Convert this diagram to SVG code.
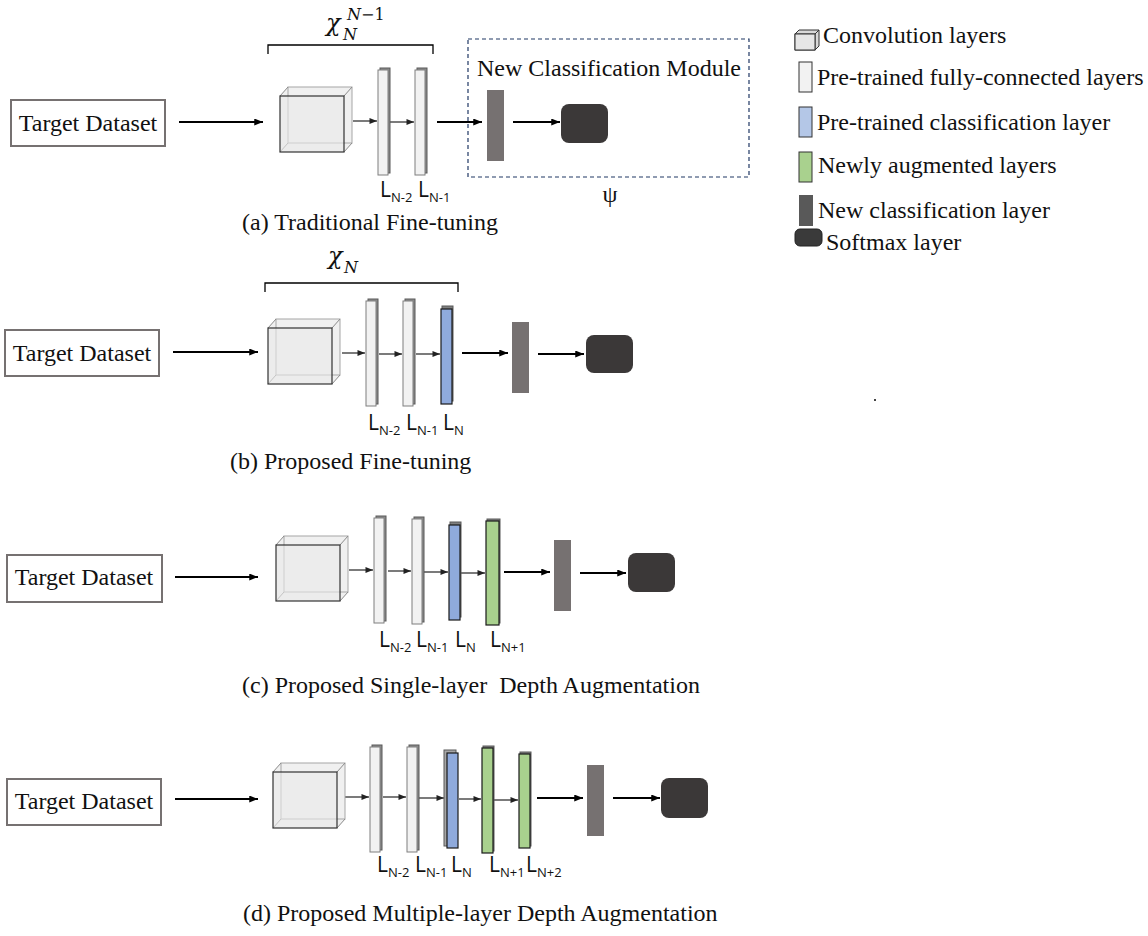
<svg xmlns="http://www.w3.org/2000/svg" xmlns:xlink="http://www.w3.org/1999/xlink" width="1148" height="936" viewBox="0 0 1148 936">
<style>
.t{font-family:"Liberation Serif","Times New Roman",serif;font-size:24px;fill:#111}
.lab{font-family:"Open Sans","Liberation Sans",sans-serif;font-size:21px;fill:#111}
.sub{font-size:13px}
.math{font-family:"DejaVu Serif","Liberation Serif",serif;font-style:italic;fill:#111}
.box{fill:#fff;stroke:#767171;stroke-width:2}
.arr{stroke:#000;stroke-width:2;fill:none}
.sarr{stroke:#333;stroke-width:1.3;fill:none}
.fcb{fill:#8c8c8c;stroke:#595959;stroke-width:1}
.fcf{fill:#f2f2f2;stroke:#7f7f7f;stroke-width:1}
.blue{fill:#8faadc;stroke:#1a1a1a;stroke-width:1.2}
.green{fill:#a9d18e;stroke:#1a1a1a;stroke-width:1.2}
.back{fill:#7f7f7f;stroke:#595959;stroke-width:1}
.ncl{fill:#767171}
.soft{fill:#3b3838}
.brk{stroke:#000;stroke-width:1.3;fill:none}
</style>
<defs>
<marker id="ah" markerUnits="userSpaceOnUse" viewBox="0 0 10 8" refX="10" refY="4" markerWidth="9" markerHeight="7" orient="auto"><path d="M0,0 L10,4 L0,8 z" fill="#000"/></marker>
<marker id="ahs" markerUnits="userSpaceOnUse" viewBox="0 0 10 8" refX="10" refY="4" markerWidth="8" markerHeight="6" orient="auto"><path d="M0,0 L10,4 L0,8 z" fill="#222"/></marker>
<g id="cube">
<polygon points="0,0 8,-9 72,-9 72,47 64,56 0,56" fill="#f0f0f0"/>
<rect x="8" y="-9" width="64" height="56" fill="none" stroke="#a6a6a6" stroke-width="1"/>
<path d="M0,0 L8,-9 M64,0 L72,-9 M64,56 L72,47 M0,56 L8,47" stroke="#8c8c8c" stroke-width="1" fill="none"/>
<rect x="0" y="0" width="64" height="56" fill="#e9e9e9" fill-opacity="0.6" stroke="#333" stroke-width="1.2"/>
</g>
<g id="fc">
<rect class="fcb" x="2" y="-2" width="10" height="105"/>
<rect class="fcf" x="0" y="0" width="10" height="105"/>
</g>
</defs>
<rect width="1148" height="936" fill="#fff"/>

<g id="connectors">
<path class="arr" d="M179,122 H263" marker-end="url(#ah)"/>
<path class="sarr" d="M353,121 H377" marker-end="url(#ahs)"/>
<path class="sarr" d="M390,122 H414" marker-end="url(#ahs)"/>
<path class="arr" d="M437,122 H482" marker-end="url(#ah)"/>
<path class="arr" d="M513,122 H560" marker-end="url(#ah)"/>

<path class="arr" d="M173,352 H258" marker-end="url(#ah)"/>
<path class="sarr" d="M342,353 H365" marker-end="url(#ahs)"/>
<path class="sarr" d="M379,354 H402" marker-end="url(#ahs)"/>
<path class="sarr" d="M416,354 H440" marker-end="url(#ahs)"/>
<path class="arr" d="M462,353 H508" marker-end="url(#ah)"/>
<path class="arr" d="M538,354 H584" marker-end="url(#ah)"/>

<path class="arr" d="M175,577 H258" marker-end="url(#ah)"/>
<path class="sarr" d="M349,570 H373" marker-end="url(#ahs)"/>
<path class="sarr" d="M388,571 H411" marker-end="url(#ahs)"/>
<path class="sarr" d="M424,572 H448" marker-end="url(#ahs)"/>
<path class="sarr" d="M461,573 H485" marker-end="url(#ahs)"/>
<path class="arr" d="M504,572 H550" marker-end="url(#ah)"/>
<path class="arr" d="M580,573 H626" marker-end="url(#ah)"/>

<path class="arr" d="M175,799 H258" marker-end="url(#ah)"/>
<path class="sarr" d="M345,797 H369" marker-end="url(#ahs)"/>
<path class="sarr" d="M383,797 H406" marker-end="url(#ahs)"/>
<path class="sarr" d="M419,798 H444" marker-end="url(#ahs)"/>
<path class="sarr" d="M459,799 H481" marker-end="url(#ahs)"/>
<path class="sarr" d="M494,800 H518" marker-end="url(#ahs)"/>
<path class="arr" d="M537,798 H583" marker-end="url(#ah)"/>
<path class="arr" d="M613,798 H660" marker-end="url(#ah)"/>
</g>

<!-- Panel (a) -->
<g id="a-target"><rect class="box" x="11" y="100" width="154" height="46"/><text class="t" x="88" y="131" text-anchor="middle">Target Dataset</text></g>
<g id="a-conv"><use xlink:href="#cube" x="280" y="96"/></g>
<g id="a-L1"><use xlink:href="#fc" x="378" y="70"/></g>
<g id="a-L2"><use xlink:href="#fc" x="415" y="70"/></g>
<g id="a-module"><rect x="468" y="39" width="281" height="138" fill="none" stroke="#203864" stroke-width="1.2" stroke-dasharray="4,3"/><text class="t" x="477" y="76">New Classification Module</text></g>
<g id="a-newcls"><rect class="ncl" x="487" y="90" width="17" height="71"/></g>
<g id="a-soft"><rect class="soft" x="561" y="104" width="47" height="39" rx="8"/></g>
<g id="a-labels">
<text class="lab" x="380" y="197">L<tspan class="sub" dy="5">N-2</tspan></text>
<text class="lab" x="418" y="197">L<tspan class="sub" dy="5">N-1</tspan></text>
<path class="brk" d="M268,54 V45 H433 V54"/>
<text class="math" x="326" y="31" font-size="24">χ</text>
<text class="math" x="343" y="40" font-size="16">N</text>
<text class="math" x="347" y="20" font-size="16">N<tspan font-style="normal">−1</tspan></text>
<text class="t" x="610" y="202" text-anchor="middle" font-size="30">ψ</text>
<text class="t" x="242" y="230">(a) Traditional Fine-tuning</text>
</g>

<!-- Panel (b) -->
<g id="b-target"><rect class="box" x="5" y="330" width="154" height="46"/><text class="t" x="82" y="361" text-anchor="middle">Target Dataset</text></g>
<g id="b-conv"><use xlink:href="#cube" x="268" y="328"/></g>
<g id="b-L1"><use xlink:href="#fc" x="366" y="301"/></g>
<g id="b-L2"><use xlink:href="#fc" x="403" y="301"/></g>
<g id="b-LN"><rect class="back" x="442" y="306" width="11" height="95"/><rect class="blue" x="441" y="309" width="11" height="95"/></g>
<g id="b-newcls"><rect class="ncl" x="512" y="322" width="17" height="71"/></g>
<g id="b-soft"><rect class="soft" x="586" y="335" width="47" height="38" rx="8"/></g>
<g id="b-labels">
<text class="lab" x="368" y="430">L<tspan class="sub" dy="5">N-2</tspan></text>
<text class="lab" x="406" y="430">L<tspan class="sub" dy="5">N-1</tspan></text>
<text class="lab" x="443" y="430">L<tspan class="sub" dy="5">N</tspan></text>
<path class="brk" d="M265,292 V283 H458 V292"/>
<text class="math" x="328" y="264" font-size="24">χ</text>
<text class="math" x="344" y="273" font-size="16">N</text>
<text class="t" x="230" y="469">(b) Proposed Fine-tuning</text>
</g>

<!-- Panel (c) -->
<g id="c-target"><rect class="box" x="7" y="555" width="155" height="47"/><text class="t" x="84" y="585" text-anchor="middle">Target Dataset</text></g>
<g id="c-conv"><use xlink:href="#cube" x="276" y="545"/></g>
<g id="c-L1"><use xlink:href="#fc" x="374" y="518"/></g>
<g id="c-L2"><use xlink:href="#fc" x="412" y="519"/></g>
<g id="c-LN"><rect class="back" x="450" y="522" width="11" height="95"/><rect class="blue" x="449" y="525" width="11" height="95"/></g>
<g id="c-LN1"><rect class="back" x="487" y="519" width="13" height="104"/><rect class="green" x="486" y="521" width="13" height="104"/></g>
<g id="c-newcls"><rect class="ncl" x="554" y="540" width="17" height="71"/></g>
<g id="c-soft"><rect class="soft" x="628" y="553" width="47" height="39" rx="8"/></g>
<g id="c-labels">
<text class="lab" x="379" y="647">L<tspan class="sub" dy="5">N-2</tspan></text>
<text class="lab" x="416" y="647">L<tspan class="sub" dy="5">N-1</tspan></text>
<text class="lab" x="455" y="647">L<tspan class="sub" dy="5">N</tspan></text>
<text class="lab" x="490" y="647">L<tspan class="sub" dy="5">N+1</tspan></text>
<text class="t" x="242" y="693" xml:space="preserve">(c) Proposed Single-layer  Depth Augmentation</text>
</g>

<!-- Panel (d) -->
<g id="d-target"><rect class="box" x="7" y="779" width="154" height="46"/><text class="t" x="84" y="809" text-anchor="middle">Target Dataset</text></g>
<g id="d-conv"><use xlink:href="#cube" x="273" y="772"/></g>
<g id="d-L1"><use xlink:href="#fc" x="370" y="747"/></g>
<g id="d-L2"><use xlink:href="#fc" x="407" y="747"/></g>
<g id="d-LN"><rect x="444" y="750" width="12" height="96" fill="#a6a6a6" stroke="#595959" stroke-width="1"/><rect class="blue" x="447" y="753" width="11" height="95"/></g>
<g id="d-LN1"><rect class="back" x="483" y="746" width="11" height="105"/><rect class="green" x="482" y="748" width="11" height="105"/></g>
<g id="d-LN2"><rect class="back" x="520" y="752" width="11" height="94"/><rect class="green" x="519" y="754" width="11" height="94"/></g>
<g id="d-newcls"><rect class="ncl" x="587" y="765" width="17" height="71"/></g>
<g id="d-soft"><rect class="soft" x="661" y="778" width="47" height="40" rx="8"/></g>
<g id="d-labels">
<text class="lab" x="377" y="872">L<tspan class="sub" dy="5">N-2</tspan></text>
<text class="lab" x="415" y="872">L<tspan class="sub" dy="5">N-1</tspan></text>
<text class="lab" x="451" y="872">L<tspan class="sub" dy="5">N</tspan></text>
<text class="lab" x="489" y="872">L<tspan class="sub" dy="5">N+1</tspan></text>
<text class="lab" x="526" y="872">L<tspan class="sub" dy="5">N+2</tspan></text>
<text class="t" x="243" y="921">(d) Proposed Multiple-layer Depth Augmentation</text>
</g>

<!-- Legend -->
<g id="legend-conv">
<polygon points="795,34 799,30 819,30 819,46 815,50 795,50" fill="#d9d9d9" stroke="#333" stroke-width="1"/>
<path d="M795,34 H815 V50 M815,34 L819,30" stroke="#333" stroke-width="1" fill="none"/>
<rect x="795" y="34" width="20" height="16" fill="#e6e6e6" stroke="#333" stroke-width="1"/>
<text class="t" x="823" y="43">Convolution layers</text>
</g>
<g id="legend-fc"><rect x="799" y="62" width="13" height="30" fill="#f2f2f2" stroke="#333" stroke-width="1"/><text class="t" x="817" y="85">Pre-trained fully-connected layers</text></g>
<g id="legend-cls"><rect x="799" y="107" width="13" height="30" fill="#b4c7e7" stroke="#333" stroke-width="1"/><text class="t" x="817" y="130">Pre-trained classification layer</text></g>
<g id="legend-aug"><rect x="799" y="152" width="13" height="30" fill="#a9d18e" stroke="#333" stroke-width="1"/><text class="t" x="818" y="173">Newly augmented layers</text></g>
<g id="legend-new"><rect x="799" y="195" width="14" height="31" fill="#595959"/><text class="t" x="818" y="218">New classification layer</text></g>
<g id="legend-soft"><rect x="795" y="229" width="27" height="17" rx="5" fill="#3a3a3a" stroke="#222" stroke-width="1"/><text class="t" x="826" y="250">Softmax layer</text></g>
<rect x="874" y="399" width="2" height="2" fill="#444"/>
</svg>
